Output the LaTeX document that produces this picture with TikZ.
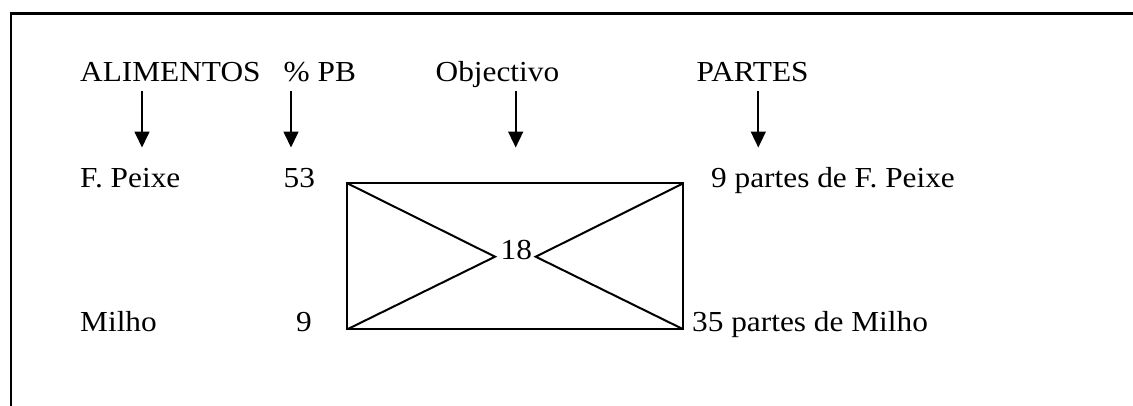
\documentclass[tikz,border=0pt]{standalone}
\usepackage{fontspec}
\setmainfont{Liberation Serif}[FakeStretch=1.08]
\usetikzlibrary{arrows.meta}
\begin{document}
\begin{tikzpicture}[x=1pt,y=-1pt,
  lbl/.style={anchor=base west,inner sep=0pt,font=\fontsize{29}{34}\selectfont},
  downarrow/.style={line width=1.7pt,-{Triangle[width=15pt,length=16pt]}},
  boxline/.style={line width=2pt},
  frameline/.style={line width=2.8pt}]
\useasboundingbox (0,0) rectangle (1133,405);
% frame (open at right and bottom, cut by page)
\coordinate (fr) at (1140,13.5);
\coordinate (fc) at (11,13.5);
\coordinate (fb) at (11,412);
\draw[frameline] (fr) -- (fc) -- (fb);
% headings
\node[lbl] (alim) at (80,81) {ALIMENTOS};
\node[lbl] (pb) at (283.5,81) {\% PB};
\node[lbl] (obj) at (435.5,81) {Objectivo};
\node[lbl] (partes) at (696.5,81) {PARTES};
% rows
\node[lbl] (peixe) at (80,187) {F. Peixe};
\node[lbl] (n53) at (283.5,187) {53};
\node[lbl] (fp) at (711,187) {9 partes de F. Peixe};
\node[lbl] (milho) at (80,331.5) {Milho};
\node[lbl] (n9) at (296,331.5) {9};
\node[lbl] (mp) at (692,331.5) {35 partes de Milho};
\node[lbl] (n18) at (500.5,259.3) {18};
% arrows
\coordinate (a1s) at (142,91);  \coordinate (a1e) at (142,147.5);
\coordinate (a2s) at (291,91);  \coordinate (a2e) at (291,147.5);
\coordinate (a3s) at (515.7,91); \coordinate (a3e) at (515.7,147.5);
\coordinate (a4s) at (758.3,91); \coordinate (a4e) at (758.3,147.5);
\draw[downarrow] (a1s) -- (a1e);
\draw[downarrow] (a2s) -- (a2e);
\draw[downarrow] (a3s) -- (a3e);
\draw[downarrow] (a4s) -- (a4e);
% box
\coordinate (tl) at (347.3,183.3);
\coordinate (tr) at (683.3,183.3);
\coordinate (bl) at (347.3,329.3);
\coordinate (br) at (683.3,329.3);
\coordinate (cl) at (495,256.7);
\coordinate (cr) at (535.7,256.7);
\draw[boxline] (tl) -- (tr) -- (br) -- (bl) -- cycle;
\draw[boxline] (tl) -- (cl) -- (bl);
\draw[boxline] (tr) -- (cr) -- (br);
\end{tikzpicture}
\end{document}
